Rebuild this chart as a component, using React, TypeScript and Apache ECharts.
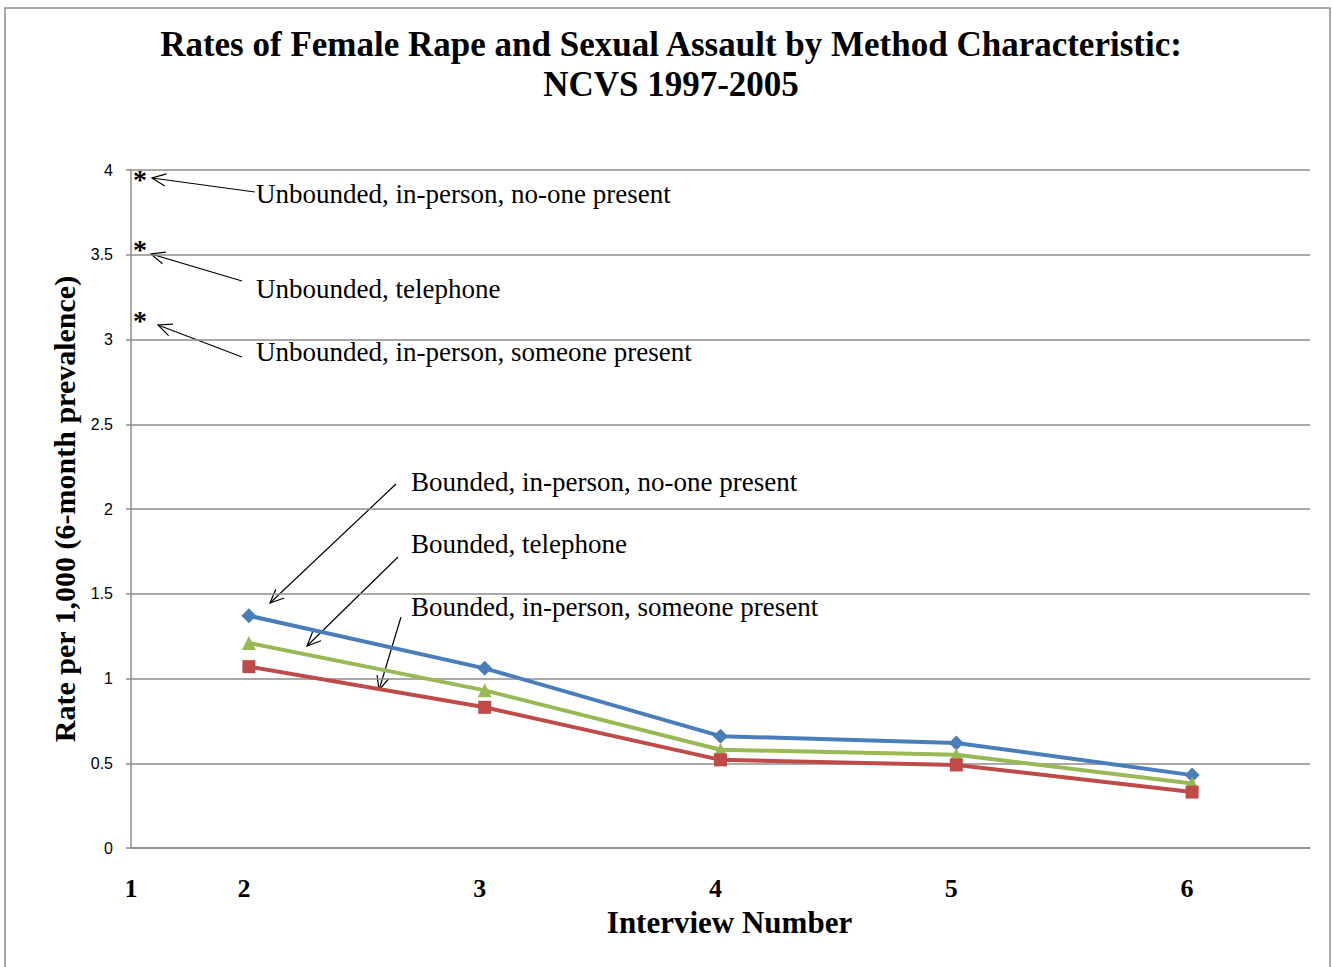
import React, { useEffect, useRef } from "react";
import * as echarts from "echarts";

// Interview numbers on the category axis ("1" is drawn separately at the axis origin)
const interviews = ["2", "3", "4", "5", "6"];
const yTicks = [0, 0.5, 1, 1.5, 2, 2.5, 3, 3.5, 4];

// Rates per 1,000 by interview number
const boundedNoOne = [1.37, 1.06, 0.66, 0.62, 0.43];
const boundedTelephone = [1.21, 0.93, 0.58, 0.55, 0.38];
const boundedSomeone = [1.07, 0.83, 0.52, 0.49, 0.33];

const seriesNames = [
  "Bounded, in-person, no-one present",
  "Bounded, telephone",
  "Bounded, in-person, someone present",
];
const unboundedNames = [
  "Unbounded, in-person, no-one present",
  "Unbounded, telephone",
  "Unbounded, in-person, someone present",
];

const SERIF = "'Liberation Serif', 'Times New Roman', serif";

function arrow(x1: number, y1: number, x2: number, y2: number) {
  const ang = Math.atan2(y1 - y2, x1 - x2);
  const len = 15;
  const spread = (24 * Math.PI) / 180;
  const a = [x2 + len * Math.cos(ang + spread), y2 + len * Math.sin(ang + spread)];
  const b = [x2 + len * Math.cos(ang - spread), y2 + len * Math.sin(ang - spread)];
  return [
    { type: "line", shape: { x1, y1, x2, y2 }, style: { stroke: "#000", lineWidth: 1.2 }, silent: true },
    { type: "polyline", shape: { points: [a, [x2, y2], b] }, style: { stroke: "#000", lineWidth: 1.2, fill: null }, silent: true },
  ];
}

function label(text: string, x: number, y: number) {
  return {
    type: "text",
    x,
    y,
    style: { text, font: `27px ${SERIF}`, fill: "#000", textAlign: "left", textVerticalAlign: "middle" },
    silent: true,
  };
}

export default function App() {
  const ref = useRef<HTMLDivElement>(null);

  useEffect(() => {
    if (!ref.current) return;
    const chart = echarts.init(ref.current, null, { renderer: "svg" });

    const line = (name: string, data: number[], color: string, symbol: string, size: number) => ({
      name,
      type: "line",
      data,
      symbol,
      symbolSize: size,
      lineStyle: { color, width: 4 },
      itemStyle: { color },
      z: 3,
    });

    const graphic: any[] = [
      {
        type: "rect",
        shape: { x: 5, y: 8, width: 1325, height: 980 },
        style: { stroke: "#8c8c8c", lineWidth: 1.5, fill: null },
        silent: true,
        z: -1,
      },
      {
        type: "text",
        x: 131,
        y: 888,
        style: { text: "1", font: `bold 26px ${SERIF}`, fill: "#000", textAlign: "center", textVerticalAlign: "middle" },
        silent: true,
      },
      // off-scale markers for the unbounded interviews
      ...[165, 235, 306].map((y) => ({
        type: "text",
        x: 140,
        y,
        style: { text: "*", font: `bold 28px ${SERIF}`, fill: "#000", textAlign: "center", textVerticalAlign: "top" },
        silent: true,
      })),
      label(unboundedNames[0], 256, 194),
      label(unboundedNames[1], 256, 289),
      label(unboundedNames[2], 256, 352),
      label(seriesNames[0], 411, 482),
      label(seriesNames[1], 411, 544),
      label(seriesNames[2], 411, 607),
      ...arrow(255, 192, 152, 178),
      ...arrow(242, 281, 151, 254),
      ...arrow(242, 357, 158, 325),
      ...arrow(396, 484, 270, 603),
      ...arrow(398, 557, 307, 646),
      ...arrow(401, 617, 379, 690),
    ];

    chart.setOption({
      animation: false,
      backgroundColor: "#fff",
      title: {
        text: "Rates of Female Rape and Sexual Assault by Method Characteristic:\nNCVS 1997-2005",
        left: 666,
        top: 19,
        textAlign: "center",
        textStyle: { fontFamily: SERIF, fontWeight: "bold", fontSize: 35, lineHeight: 40, color: "#000" },
      },
      grid: { left: 131, right: 22, top: 170, bottom: 119, containLabel: false },
      xAxis: {
        type: "category",
        data: interviews,
        boundaryGap: true,
        name: "Interview Number",
        nameLocation: "middle",
        nameGap: 59,
        nameTextStyle: { fontFamily: SERIF, fontWeight: "bold", fontSize: 31, color: "#000", padding: [0, 0, 0, 18] },
        axisLine: { lineStyle: { color: "#8c8c8c", width: 1.5 } },
        axisTick: { show: false },
        axisLabel: { fontFamily: SERIF, fontWeight: "bold", fontSize: 26, color: "#000", margin: 27, padding: [0, 10, 0, 0] },
      },
      yAxis: {
        type: "value",
        min: yTicks[0],
        max: yTicks[yTicks.length - 1],
        interval: 0.5,
        name: "Rate per 1,000 (6-month prevalence)",
        nameLocation: "middle",
        nameGap: 52,
        nameRotate: 90,
        nameTextStyle: { fontFamily: SERIF, fontWeight: "bold", fontSize: 30, color: "#000" },
        axisLine: { show: true, lineStyle: { color: "#8c8c8c", width: 1.5 } },
        axisTick: { show: true, length: 5, lineStyle: { color: "#8c8c8c", width: 1.5 } },
        axisLabel: { fontFamily: "'Liberation Sans', Arial, sans-serif", fontSize: 16, color: "#000", margin: 18 },
        splitLine: { show: true, lineStyle: { color: "#8c8c8c", width: 1.5 } },
      },
      series: [
        line(seriesNames[0], boundedNoOne, "#4a7ebb", "diamond", 15),
        line(seriesNames[1], boundedTelephone, "#98b954", "triangle", 14),
        line(seriesNames[2], boundedSomeone, "#be4b48", "rect", 13),
      ],
      graphic,
    });

    return () => chart.dispose();
  }, []);

  return (
    <div
      ref={ref}
      style={{ position: "fixed", left: 0, top: 0, width: 1332, height: 967, background: "#fff" }}
    />
  );
}
